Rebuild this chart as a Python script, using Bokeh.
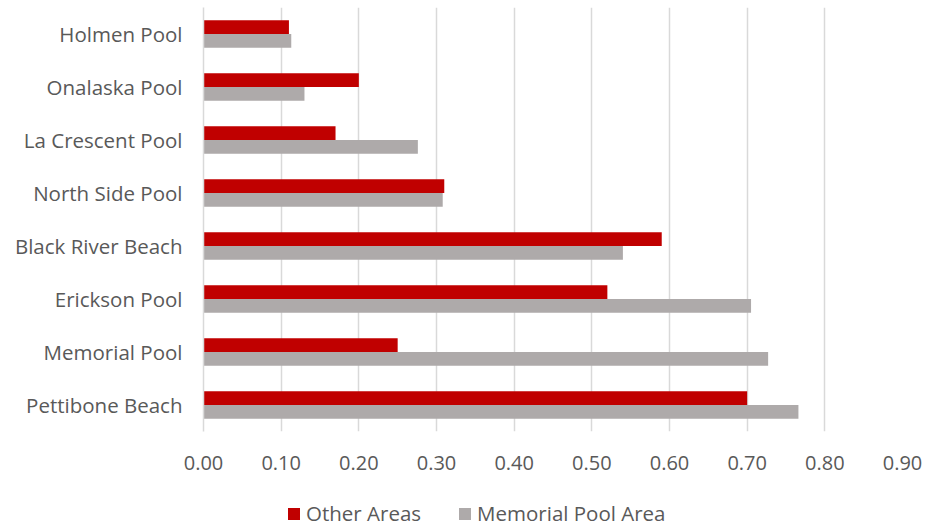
from bokeh.plotting import figure
from bokeh.models import (ColumnDataSource, FactorRange, Range1d, Legend, LegendItem,
                          FixedTicker, NumeralTickFormatter)
from bokeh.layouts import column
from bokeh.transform import dodge
from bokeh.embed import file_html
from bokeh.resources import INLINE

# ---- data ----
categories = ["Holmen Pool", "Onalaska Pool", "La Crescent Pool", "North Side Pool",
              "Black River Beach", "Erickson Pool", "Memorial Pool", "Pettibone Beach"]
other_areas = [0.11, 0.20, 0.17, 0.31, 0.59, 0.52, 0.25, 0.70]
memorial_pool_area = [0.113, 0.13, 0.276, 0.308, 0.54, 0.705, 0.727, 0.766]
x_ticks = [0.0, 0.1, 0.2, 0.3, 0.4, 0.5, 0.6, 0.7, 0.8, 0.9]
series_names = ["Other Areas", "Memorial Pool Area"]

RED = "#C00000"
GRAY = "#AEAAAA"
TEXT = "#595959"
FONT = "Open Sans"

source = ColumnDataSource(dict(cat=categories, other=other_areas, mem=memorial_pool_area))

p = figure(frame_width=699, frame_height=424, output_backend="svg", toolbar_location=None,
           y_range=FactorRange(factors=list(reversed(categories))),
           x_range=Range1d(0, 0.9),
           min_border_left=203, min_border_right=23, min_border_top=7, min_border_bottom=52)

r1 = p.hbar(y=dodge("cat", 0.13, range=p.y_range), right="other", left=0, height=0.26,
            source=source, fill_color=RED, line_color=None)
r2 = p.hbar(y=dodge("cat", -0.13, range=p.y_range), right="mem", left=0, height=0.26,
            source=source, fill_color=GRAY, line_color=None)

p.outline_line_color = None
p.background_fill_color = "white"
p.border_fill_color = "white"

p.ygrid.grid_line_color = None
p.xgrid.grid_line_color = "#D9D9D9"
p.xgrid.grid_line_width = 1.5

p.xaxis.ticker = FixedTicker(ticks=x_ticks)
p.xaxis.formatter = NumeralTickFormatter(format="0.00")
p.xaxis.axis_line_color = None
p.xaxis.major_tick_line_color = None
p.xaxis.minor_tick_line_color = None
p.xaxis.major_tick_out = 0
p.xaxis.major_label_standoff = 24
p.xaxis.major_label_text_font = FONT
p.xaxis.major_label_text_font_size = "20px"
p.xaxis.major_label_text_color = TEXT

p.yaxis.axis_line_color = "#D9D9D9"
p.yaxis.axis_line_width = 1.5
p.yaxis.major_tick_line_color = None
p.yaxis.minor_tick_line_color = None
p.yaxis.major_tick_out = 0
p.yaxis.major_label_standoff = 21
p.yaxis.major_label_text_font = FONT
p.yaxis.major_label_text_font_size = "20.5px"
p.yaxis.major_label_text_color = TEXT

# ---- legend strip (separate small figure below the chart) ----
lg = figure(width=925, height=44, output_backend="svg", toolbar_location=None,
            x_range=Range1d(0, 1), y_range=Range1d(0, 1),
            x_axis_type=None, y_axis_type=None,
            min_border_left=0, min_border_right=0, min_border_top=0, min_border_bottom=0)
lg.outline_line_color = None
lg.xgrid.visible = False
lg.ygrid.visible = False
lg.background_fill_alpha = 0
lg.border_fill_color = "white"
# zero-width proxy bars: invisible, only carry the series styles for the legend keys
proxy = ColumnDataSource(dict(y=[0.5], left=[0.0], right=[0.0]))
k1 = lg.hbar(y="y", left="left", right="right", height=0.5, source=proxy,
             fill_color=RED, line_color=None)
k2 = lg.hbar(y="y", left="left", right="right", height=0.5, source=proxy,
             fill_color=GRAY, line_color=None)

legend = Legend(items=[LegendItem(label=series_names[0], renderers=[k1]),
                       LegendItem(label=series_names[1], renderers=[k2])],
                orientation="horizontal", location=(83, 0),
                glyph_width=15, glyph_height=15, label_standoff=5, spacing=36,
                padding=0, margin=0, border_line_color=None, background_fill_alpha=0,
                label_text_font=FONT, label_text_font_size="20.5px", label_text_color=TEXT)
lg.add_layout(legend, "center")

layout = column(p, lg, spacing=0)

open("out.html", "w").write(file_html(layout, INLINE))
